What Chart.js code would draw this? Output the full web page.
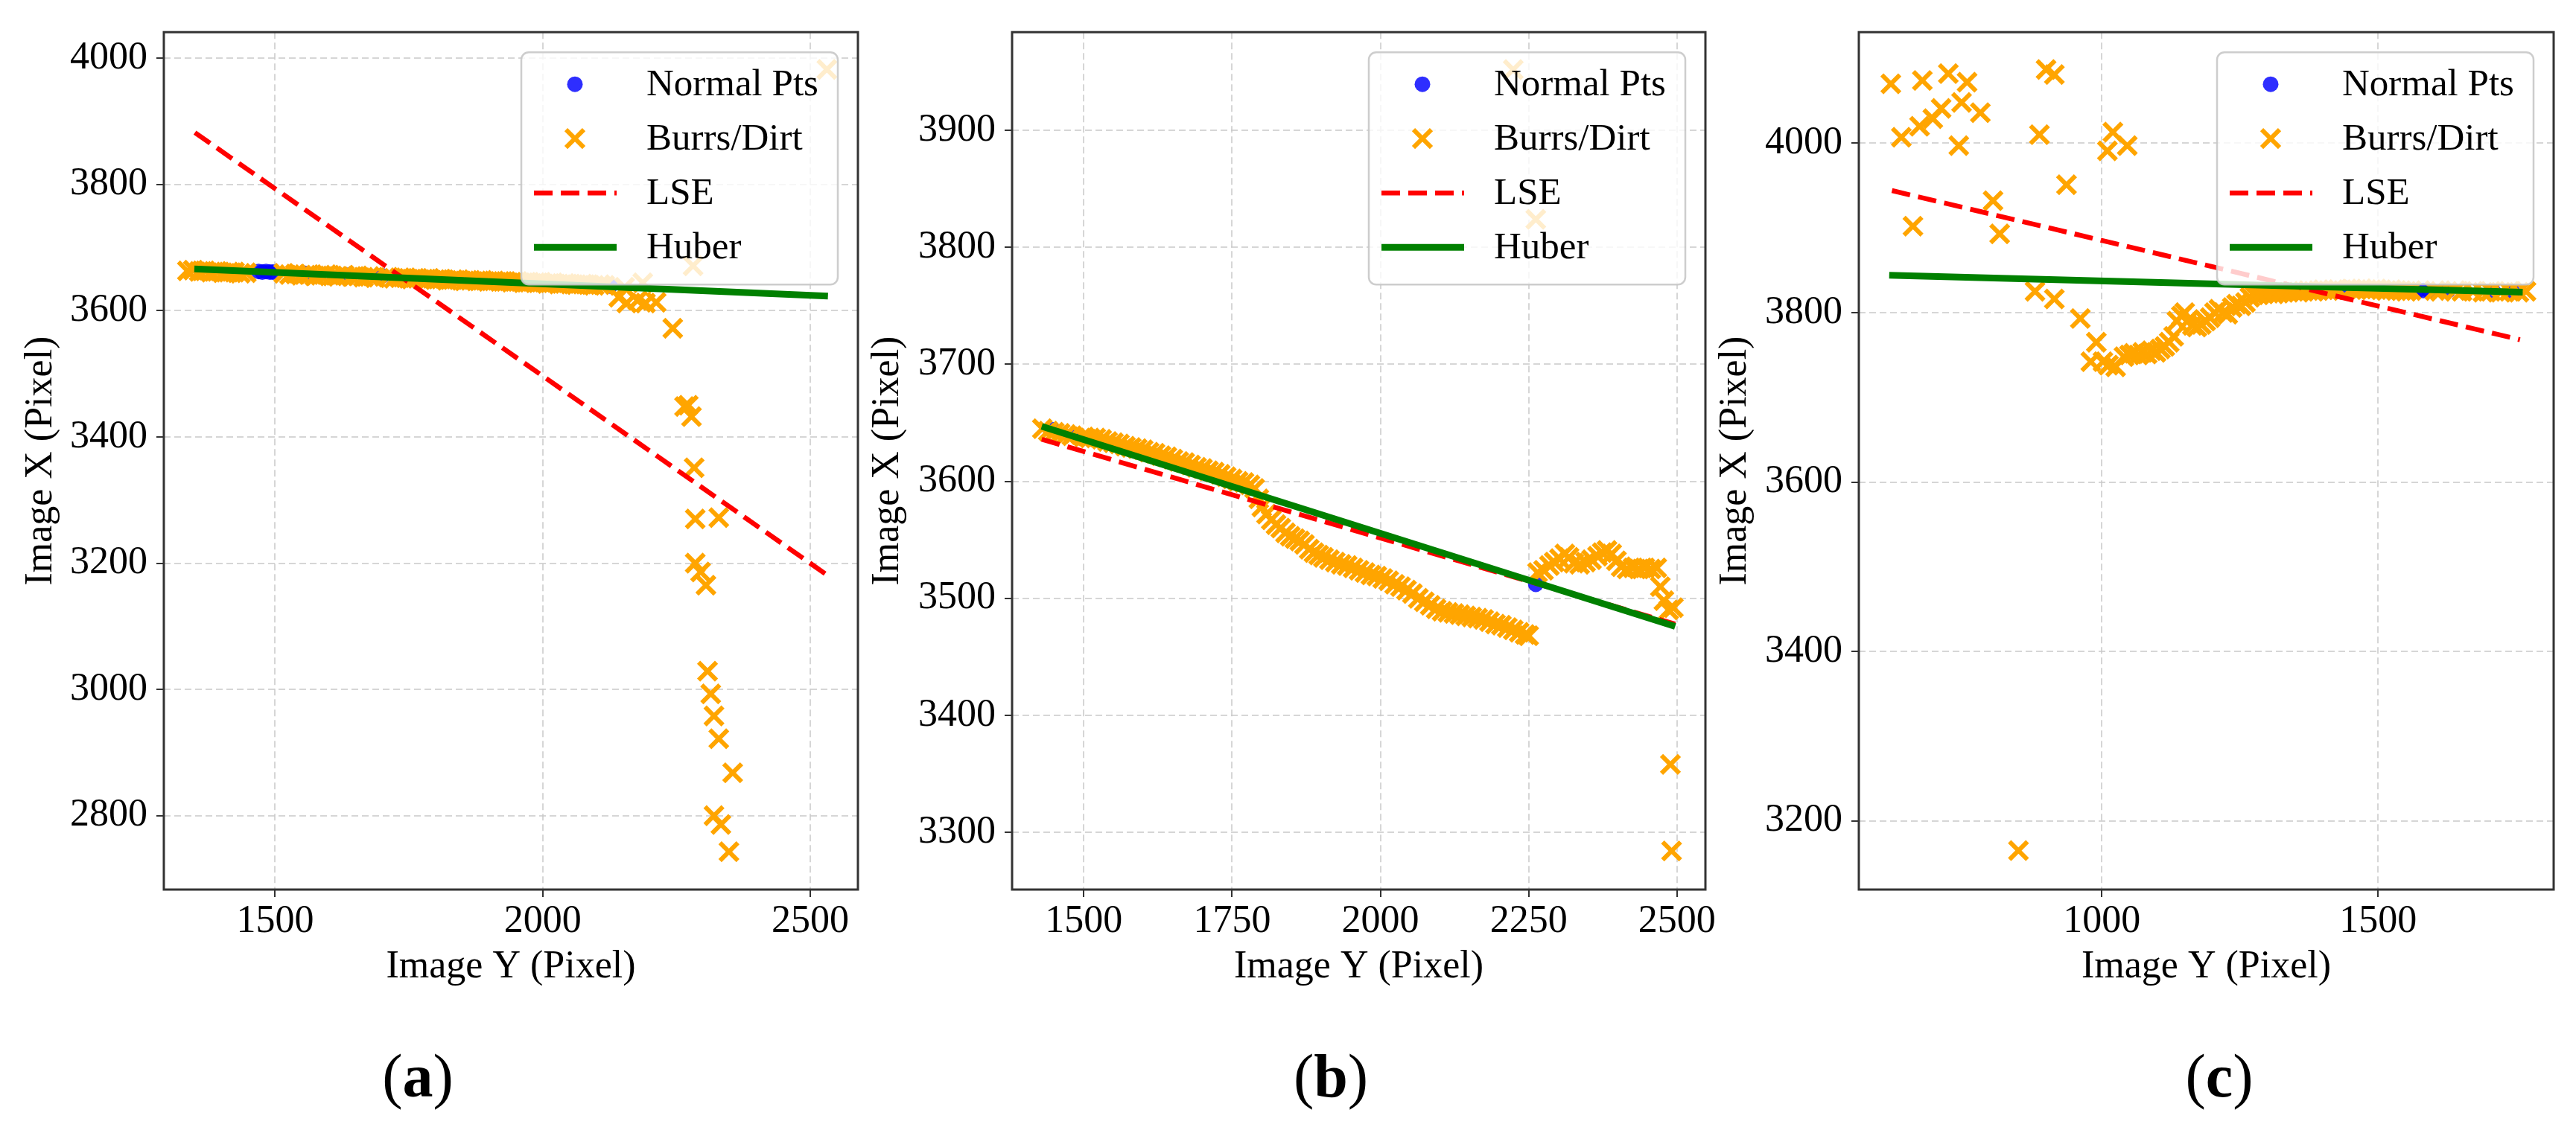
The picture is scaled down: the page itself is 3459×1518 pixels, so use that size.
<!DOCTYPE html>
<html>
<head>
<meta charset="utf-8">
<script src="https://cdn.jsdelivr.net/npm/chart.js@4.4.1/dist/chart.umd.min.js"></script>
<style>
  body { margin: 0; background: #fff; width: 3459px; height: 1518px; position: relative; overflow: hidden; }
  canvas { position: absolute; top: 0; }
  .tag { position: absolute; font: 82px "Liberation Serif", serif; color: #000; line-height: 1; transform: translate(-50%, -50%); white-space: nowrap; }
</style>
</head>
<body>
<canvas id="ca" width="1175" height="1335" style="left:0px"></canvas>
<canvas id="cb" width="1173" height="1335" style="left:1140px"></canvas>
<canvas id="cc" width="1172" height="1335" style="left:2280px"></canvas>
<div class="tag" style="left:561px;top:1446px">(<b>a</b>)</div>
<div class="tag" style="left:1787px;top:1446px">(<b>b</b>)</div>
<div class="tag" style="left:2980px;top:1446px">(<b>c</b>)</div>
<script>
// ---- data ----
const seriesLabels = ['Normal Pts', 'Burrs/Dirt', 'LSE', 'Huber'];
const xTitle = 'Image Y (Pixel)';
const yTitle = 'Image X (Pixel)';

// (a)
const aNormalX = [1469, 1476, 1483, 1490, 1496, 1556, 1636, 1700, 2126];
const aNormalY = [3662, 3661, 3662, 3661, 3661, 3659, 3656, 3655, 3639];
const aBurrX = [1336, 1347, 1358, 1369, 1380, 1391, 1402, 1413, 1424, 1435, 1446,
  1516, 1527, 1538, 1549, 1563, 1574, 1585, 1596, 1607, 1618, 1629,
  1643, 1654, 1665, 1676, 1687,
  1711, 1722, 1733, 1744, 1755, 1766, 1777, 1788, 1799, 1810, 1821, 1832, 1843, 1854, 1865, 1876, 1887, 1898,
  1909, 1920, 1931, 1942, 1953, 1964, 1975, 1986, 1997, 2008, 2019, 2030, 2041, 2052, 2063, 2074, 2085, 2096, 2107, 2116,
  2142, 2153, 2157, 2177, 2187, 2192, 2212, 2243, 2265, 2272, 2278, 2283, 2285, 2329, 2285, 2295, 2305,
  2308, 2314, 2320, 2329, 2355, 2320, 2333, 2348, 2281, 2531];
const aBurrY = [3663, 3664, 3662, 3663, 3661, 3662, 3660, 3661, 3661, 3659, 3660,
  3659, 3657, 3658, 3656, 3657, 3655, 3656, 3657, 3655, 3654, 3656,
  3654, 3655, 3653, 3654, 3652,
  3653, 3651, 3652, 3652, 3650, 3651, 3650, 3651, 3649, 3650, 3648, 3649, 3649, 3647, 3648, 3647, 3648, 3646,
  3647, 3646, 3646, 3645, 3646, 3644, 3645, 3644, 3645, 3643, 3644, 3642, 3643, 3642, 3641, 3642, 3641, 3640, 3641, 3640,
  3621, 3637, 3612, 3616, 3644, 3612, 3613, 3572, 3448, 3450, 3432, 3351, 3270, 3272, 3200, 3186, 3165,
  3029, 2993, 2958, 2922, 2868, 2800, 2786, 2743, 3671, 3982];
const aLseX = [1350, 2530], aLseY = [3882, 3182];
const aHuberX = [1349, 2533], aHuberY = [3666, 3623];
const aXRange = [1292, 2589], aYRange = [2683, 4041];
const aXTicks = [1500, 2000, 2500];
const aYTicks = [2800, 3000, 3200, 3400, 3600, 3800, 4000];

// (b)
const bNormalX = [1448, 1490, 2262];
const bNormalY = [3644, 3639, 3512];
const bBurrX = [1430, 1440, 1450, 1460, 1470, 1480, 1500, 1510, 1520, 1530, 1540, 1550, 1560, 1570, 1580, 1590,
  1600, 1610, 1620, 1630, 1640, 1650, 1660, 1670, 1680, 1690, 1700, 1710, 1720, 1730, 1740, 1750, 1760, 1770, 1780, 1788,
  1795, 1800, 1808, 1816, 1824, 1832, 1840, 1848, 1856, 1864, 1872, 1880, 1888, 1896, 1904,
  1914, 1924, 1934, 1944, 1954, 1964, 1974, 1984, 1994, 2004, 2014, 2024, 2034, 2044, 2054, 2064, 2074, 2084, 2094,
  2104, 2114, 2124, 2134, 2144, 2154, 2164, 2174, 2184, 2194, 2204, 2214, 2224, 2234, 2244, 2250,
  2265, 2275, 2285, 2293, 2302, 2311, 2318, 2326, 2336, 2346, 2356, 2366, 2374, 2382, 2390, 2398, 2406, 2416,
  2426, 2436, 2446, 2456, 2466, 2472, 2478, 2486, 2494,
  2489, 2491, 2224, 2262];
const bBurrY = [3645, 3643, 3642, 3641, 3640, 3639, 3638, 3637, 3637, 3636, 3634, 3633, 3632, 3630, 3629, 3628,
  3627, 3625, 3624, 3622, 3621, 3619, 3617, 3616, 3614, 3612, 3611, 3609, 3608, 3606, 3604, 3602, 3600, 3599, 3597, 3594,
  3585, 3578, 3572, 3567, 3563, 3560, 3556, 3553, 3551, 3549, 3546, 3542, 3539, 3537, 3535,
  3533, 3531, 3529, 3528, 3526, 3524, 3522, 3520, 3519, 3517, 3515, 3512, 3510, 3507, 3504, 3500, 3497, 3494, 3491,
  3489, 3488, 3487, 3486, 3485, 3484, 3483, 3482, 3480, 3478, 3477, 3475, 3473, 3471, 3469, 3468,
  3522, 3524, 3528, 3531, 3534, 3538, 3535, 3530, 3529, 3531, 3533, 3536, 3539, 3541, 3538, 3532, 3527, 3525,
  3526, 3525, 3526, 3525, 3526, 3510, 3498, 3490, 3492,
  3358, 3284, 3952, 3824];
const bLseX = [1429, 2497], bLseY = [3636, 3478];
const bHuberX = [1429, 2497], bHuberY = [3647, 3476];
const bXRange = [1379, 2548], bYRange = [3251, 3984];
const bXTicks = [1500, 1750, 2000, 2250, 2500];
const bYTicks = [3300, 3400, 3500, 3600, 3700, 3800, 3900];

// (c)
const cNormalX = [1443, 1572, 1582, 1592, 1627, 1709, 1743];
const cNormalY = [3829, 3826, 3826, 3826, 3826, 3825, 3825];
const cBurrX = [618, 637, 658, 675, 670, 694, 709, 722, 741, 746, 756, 780, 803, 815, 879, 887, 899, 914, 914, 936,
  961, 1020, 1010, 1046, 849,
  980, 990, 1002, 1012, 1025,
  1040, 1050, 1058, 1066, 1074, 1082, 1090, 1098, 1106, 1114, 1122, 1130, 1136, 1144, 1150, 1158, 1164, 1172, 1180,
  1188, 1196, 1204, 1212, 1220, 1228, 1236, 1244, 1252, 1260, 1268, 1275,
  1284, 1293, 1302, 1311, 1320, 1329, 1338, 1347, 1356, 1365, 1374, 1383, 1392, 1401, 1410, 1419, 1428,
  1452, 1461, 1470, 1479, 1488, 1497, 1506, 1515, 1524, 1533, 1542, 1551, 1560, 1603, 1613,
  1640, 1652, 1672, 1690, 1704, 1722, 1738, 1755, 1768];
const cBurrY = [4070, 4007, 3902, 4074, 4020, 4029, 4041, 4082, 3997, 4048, 4072, 4036, 3932, 3893, 3825, 4010, 4087, 4081, 3816, 3951,
  3793, 4013, 3991, 3997, 3165,
  3742, 3765, 3742, 3738, 3736,
  3748, 3750, 3752, 3750, 3753, 3751, 3755, 3753, 3757, 3760, 3765, 3772, 3790, 3796, 3800, 3792, 3785, 3783, 3786,
  3790, 3794, 3800, 3804, 3800, 3798, 3806, 3810, 3808, 3812, 3818, 3821,
  3821, 3822, 3823, 3822, 3823, 3824, 3824, 3825, 3824, 3825, 3826, 3825, 3826, 3827, 3826, 3827, 3827,
  3828, 3827, 3828, 3827, 3827, 3828, 3827, 3826, 3827, 3826, 3826, 3825, 3826, 3826, 3825,
  3826, 3825, 3825, 3824, 3825, 3824, 3825, 3824, 3825];
const cLseX = [620, 1757], cLseY = [3944, 3768];
const cHuberX = [615, 1762], cHuberY = [3844, 3824];
const cXRange = [560, 1818], cYRange = [3119, 4131];
const cXTicks = [1000, 1500];
const cYTicks = [3200, 3400, 3600, 3800, 4000];

// ---- drawing ----
const FONT = '"Liberation Serif", "Times New Roman", serif';
const pts = (xs, ys) => xs.map((x, i) => ({ x: x, y: ys[i] }));

// box around the plot, like matplotlib spines
const frame = {
  id: 'frame',
  afterDatasetsDraw(chart) {
    const { ctx, chartArea: a } = chart;
    ctx.save();
    ctx.strokeStyle = '#333';
    ctx.lineWidth = 3;
    ctx.strokeRect(a.left, a.top, a.right - a.left, a.bottom - a.top);
    ctx.restore();
  }
};

// legend box in upper right, drawn over the data
const legendBox = {
  id: 'legendBox',
  afterDraw(chart) {
    const { ctx, chartArea: a } = chart;
    const w = 425, h = 312;
    const x0 = a.right - 27 - w, y0 = a.top + 27;
    ctx.save();
    ctx.beginPath();
    ctx.roundRect(x0, y0, w, h, 10);
    ctx.fillStyle = 'rgba(255,255,255,0.8)';
    ctx.fill();
    ctx.strokeStyle = 'rgba(200,200,200,0.9)';
    ctx.lineWidth = 2.5;
    ctx.stroke();
    chart.data.datasets.forEach((ds, i) => {
      const cy = y0 + 43 + i * 73;
      const mx = x0 + 72;
      if (ds.showLine) {
        ctx.beginPath();
        ctx.setLineDash(ds.borderDash || []);
        ctx.strokeStyle = ds.borderColor;
        ctx.lineWidth = ds.borderWidth;
        ctx.moveTo(x0 + 17, cy);
        ctx.lineTo(x0 + 128, cy);
        ctx.stroke();
        ctx.setLineDash([]);
      } else if (ds.pointStyle === 'crossRot') {
        const r = ds.pointRadius * Math.SQRT1_2;
        ctx.beginPath();
        ctx.strokeStyle = ds.borderColor;
        ctx.lineWidth = ds.borderWidth;
        ctx.moveTo(mx - r, cy - r); ctx.lineTo(mx + r, cy + r);
        ctx.moveTo(mx - r, cy + r); ctx.lineTo(mx + r, cy - r);
        ctx.stroke();
      } else {
        ctx.beginPath();
        ctx.fillStyle = ds.backgroundColor;
        ctx.arc(mx, cy, ds.pointRadius, 0, Math.PI * 2);
        ctx.fill();
      }
      ctx.fillStyle = '#000';
      ctx.font = '51px ' + FONT;
      ctx.textBaseline = 'middle';
      ctx.fillText(ds.label, x0 + 168, cy + 1);
    });
    ctx.restore();
  }
};

function axis(range, ticks, title, extra) {
  return Object.assign({
    type: 'linear',
    min: range[0],
    max: range[1],
    afterBuildTicks: s => { s.ticks = ticks.map(v => ({ value: v })); },
    ticks: {
      callback: v => String(v),
      color: '#000',
      font: { family: FONT, size: 52, lineHeight: 1.2 },
      autoSkip: false,
      maxRotation: 0
    },
    grid: {
      color: 'rgba(200,200,200,0.75)',
      lineWidth: 2,
      drawTicks: true,
      tickLength: 10,
      tickWidth: 2,
      tickColor: '#333',
      tickBorderDash: []
    },
    border: { display: false, dash: [9, 5] },
    title: {
      display: true,
      text: title,
      color: '#000',
      font: { family: FONT, size: 52, lineHeight: 1.2 }
    }
  }, extra);
}

function panel(id, d, g) {
  const xAxis = axis(d.xRange, d.xTicks, xTitle, {
    position: 'bottom',
    afterFit: s => { s.height = g.height - 1195; }
  });
  xAxis.ticks.padding = 2;
  xAxis.title.padding = { top: 0, bottom: 4 };
  const yAxis = axis(d.yRange, d.yTicks, yTitle, {
    position: 'left',
    afterFit: s => { s.width = g.yAxisW; }
  });
  yAxis.ticks.padding = 12;
  yAxis.title.padding = { top: g.yTitlePad, bottom: 0 };

  new Chart(document.getElementById(id), {
    type: 'scatter',
    data: {
      datasets: [
        {
          label: seriesLabels[0], data: pts(d.normalX, d.normalY), order: 3,
          pointStyle: 'circle', pointRadius: 10.5, backgroundColor: 'rgba(0,0,255,0.82)', borderWidth: 0
        },
        {
          label: seriesLabels[1], data: pts(d.burrX, d.burrY), order: 2,
          pointStyle: 'crossRot', pointRadius: 17, borderColor: '#FFA500', backgroundColor: '#FFA500', borderWidth: 6
        },
        {
          label: seriesLabels[2], data: pts(d.lseX, d.lseY), order: 1, showLine: true,
          borderColor: '#FF0000', borderWidth: 6.5, borderDash: [25, 11], pointRadius: 0, borderCapStyle: 'butt'
        },
        {
          label: seriesLabels[3], data: pts(d.huberX, d.huberY), order: 0, showLine: true,
          borderColor: '#008000', borderWidth: 9, pointRadius: 0
        }
      ]
    },
    options: {
      responsive: false,
      animation: false,
      devicePixelRatio: 1,
      events: [],
      layout: { padding: { left: 0, right: g.padRight, top: g.padTop, bottom: 0 } },
      plugins: { legend: { display: false }, tooltip: { enabled: false } },
      scales: { x: xAxis, y: yAxis }
    },
    plugins: [frame, legendBox]
  });
}

panel('ca', {
  normalX: aNormalX, normalY: aNormalY, burrX: aBurrX, burrY: aBurrY,
  lseX: aLseX, lseY: aLseY, huberX: aHuberX, huberY: aHuberY,
  xRange: aXRange, yRange: aYRange, xTicks: aXTicks, yTicks: aYTicks
}, { height: 1335, yAxisW: 220, padTop: 21, padRight: 15, yTitlePad: 24 });

panel('cb', {
  normalX: bNormalX, normalY: bNormalY, burrX: bBurrX, burrY: bBurrY,
  lseX: bLseX, lseY: bLseY, huberX: bHuberX, huberY: bHuberY,
  xRange: bXRange, yRange: bYRange, xTicks: bXTicks, yTicks: bYTicks
}, { height: 1335, yAxisW: 219, padTop: 21, padRight: 15, yTitlePad: 21 });

panel('cc', {
  normalX: cNormalX, normalY: cNormalY, burrX: cBurrX, burrY: cBurrY,
  lseX: cLseX, lseY: cLseY, huberX: cHuberX, huberY: cHuberY,
  xRange: cXRange, yRange: cYRange, xTicks: cXTicks, yTicks: cYTicks
}, { height: 1335, yAxisW: 216, padTop: 22, padRight: 15, yTitlePad: 19 });
</script>
</body>
</html>
